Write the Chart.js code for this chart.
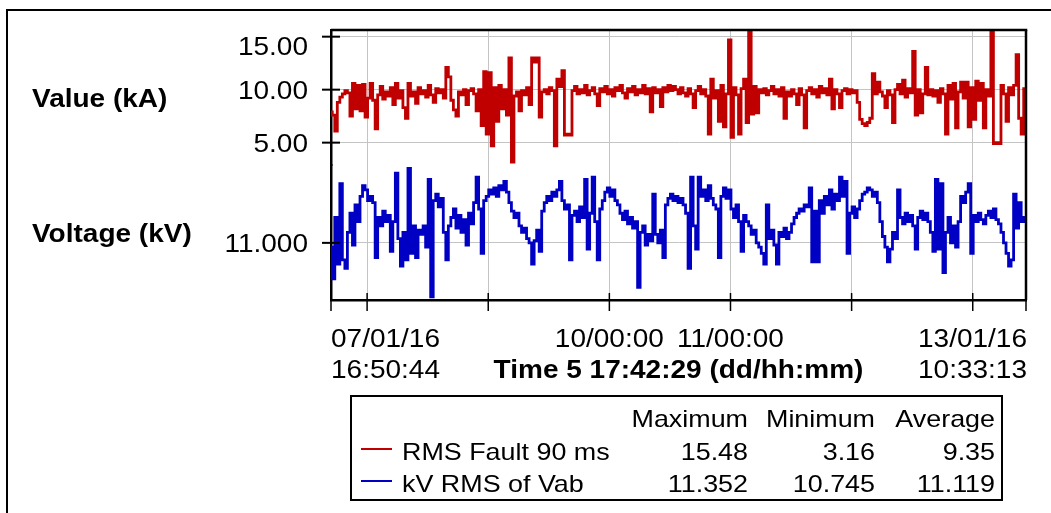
<!DOCTYPE html>
<html>
<head>
<meta charset="utf-8">
<script src="https://cdn.jsdelivr.net/npm/chart.js@4.4.1/dist/chart.umd.min.js"></script>
<style>
  html, body { margin: 0; padding: 0; background: #fff; }
  canvas { display: block; }
</style>
</head>
<body>
<canvas id="trend" width="1051" height="513"></canvas>
<script>
// Time base: hours counted from 07/01/16 00:00
const startHour = 16.8456;   // 07/01/16 16:50:44
const endHour = 154.5536;    // 13/01/16 10:33:13
const sampleStep = 0.5;      // hours between logged samples

// RMS Fault 90 ms (kA)
const faultKA = [
  7.9, 7.6, 6.1, 8.8, 9.3, 9.6, 9.9, 9.7, 7.5, 10.6, 8.2, 10.4,
  8.0, 10.5, 7.4, 9.2, 10.6, 9.0, 6.3, 9.5, 10.3, 9.1, 9.8, 9.4,
  10.2, 8.6, 10.6, 9.2, 9.9, 8.3, 7.3, 10.6, 9.4, 9.8, 8.7, 10.2,
  9.6, 9.9, 9.3, 10.4, 9.5, 8.8, 10.1, 9.7, 10.0, 9.2, 12.1, 11.2,
  9.0, 8.1, 7.5, 9.8, 9.5, 10.0, 8.6, 9.9, 10.1, 9.6, 8.0, 10.0,
  6.6, 11.7, 5.8, 11.6, 4.7, 10.2, 7.0, 10.4, 8.2, 10.0, 7.6, 13.0,
  3.16, 9.4, 9.8, 8.0, 9.9, 9.5, 10.2, 8.6, 13.0, 12.6, 13.0, 7.4,
  9.8, 10.0, 9.6, 10.2, 9.9, 4.7, 11.0, 10.3, 11.8, 5.7, 5.8, 5.7,
  9.9, 10.3, 9.6, 10.0, 9.7, 10.4, 9.5, 9.9, 10.2, 9.6, 8.5, 10.1,
  9.8, 10.3, 9.6, 10.0, 9.4, 10.2, 9.9, 10.4, 9.7, 9.2, 10.1, 9.8,
  10.3, 9.5, 10.0, 9.7, 10.4, 9.6, 10.1, 7.9, 10.2, 9.7, 10.0, 8.4,
  10.2, 9.8, 10.4, 9.9, 10.3, 10.0, 9.6, 10.2, 9.7, 9.4, 10.1, 9.6,
  8.3, 9.9, 10.3, 9.6, 10.0, 9.4, 5.8, 11.0, 9.2, 9.9, 7.0, 10.4,
  6.5, 9.6, 14.7, 5.5, 10.2, 9.5, 5.8, 10.1, 11.0, 6.9, 15.48, 7.7,
  10.3, 7.8, 10.0, 9.7, 10.1, 9.5, 9.9, 10.3, 9.6, 10.0, 9.4, 10.2,
  7.3, 9.8, 9.4, 10.0, 9.6, 8.6, 10.1, 9.5, 6.4, 9.9, 10.2, 9.6,
  10.0, 9.3, 10.3, 9.7, 10.1, 9.5, 11.0, 8.2, 10.0, 9.6, 8.3, 9.9,
  10.1, 9.6, 10.0, 9.7, 9.9, 8.8, 7.2, 6.8, 6.6, 6.9, 7.3, 11.5,
  9.6, 10.7, 9.8, 9.4, 8.3, 9.9, 9.5, 6.9, 10.0, 10.5, 9.6, 10.9,
  9.3, 10.1, 9.7, 13.6, 7.6, 10.0, 7.8, 9.6, 12.1, 9.5, 10.0, 9.4,
  9.9, 8.8, 10.1, 9.6, 5.8, 10.4, 9.1, 10.6, 6.4, 9.8, 10.7, 9.2,
  10.7, 6.5, 10.2, 7.2, 10.8, 9.0, 10.6, 6.4, 10.0, 9.4, 15.4, 4.9,
  5.0, 4.9, 10.4, 9.6, 7.0, 10.2, 9.5, 10.4, 13.3, 7.3, 5.8, 10.1
];

// kV RMS of Vab (kV)
const voltageKV = [
  10.98, 10.83, 11.12, 10.90, 11.28, 10.92, 10.88, 11.05, 11.14, 10.99, 11.18, 11.10,
  11.22, 11.27, 11.25, 11.20, 11.22, 11.19, 10.93, 11.12, 11.08, 11.15, 11.10, 11.13,
  10.96, 11.10, 11.33, 11.02, 10.89, 11.05, 10.92, 11.352, 10.95, 11.08, 10.93, 11.06,
  11.04, 11.08, 10.98, 11.30, 10.745, 11.20, 11.23, 11.17, 11.21, 11.05, 10.92, 11.08,
  11.12, 11.16, 11.07, 11.13, 11.05, 11.11, 10.99, 11.14, 11.09, 11.19, 11.31, 11.16,
  10.95, 11.20, 11.22, 11.25, 11.23, 11.26, 11.22, 11.27, 11.25, 11.29, 11.24, 11.19,
  11.15, 11.12, 11.14, 11.08, 11.05, 11.07, 11.02, 11.00, 10.90, 11.01, 11.06, 10.96,
  11.15, 11.19, 11.22, 11.20, 11.24, 11.22, 11.25, 11.29, 11.20, 11.16, 11.18, 10.92,
  11.13, 11.15, 11.10, 11.17, 11.12, 11.30, 10.97, 11.14, 11.31, 11.10, 10.92, 11.16,
  11.20, 11.24, 11.26, 11.22, 11.25, 11.20, 11.18, 11.14, 11.11, 11.15, 11.09, 11.12,
  11.07, 11.10, 10.79, 11.05, 11.08, 10.99, 11.04, 11.01, 11.23, 11.04, 11.00, 11.06,
  10.93, 11.18, 11.21, 11.23, 11.20, 11.22, 11.19, 11.21, 11.18, 11.14, 10.88, 11.31,
  11.08, 10.97, 11.31, 11.22, 11.25, 11.20, 11.27, 11.21, 11.18, 11.16, 10.93, 11.22,
  11.26, 11.21, 11.25, 11.16, 11.12, 11.18, 11.10, 10.96, 11.13, 11.10, 11.08, 11.04,
  11.06, 11.00, 10.98, 10.95, 10.90, 11.18, 11.02, 11.06, 10.99, 10.90, 11.05, 11.03,
  11.07, 11.02, 11.05, 11.09, 11.12, 11.14, 11.16, 11.15, 11.18, 11.17, 11.26, 10.91,
  11.15, 10.91, 11.20, 11.14, 11.22, 11.18, 11.25, 11.16, 11.23, 11.20, 11.31, 11.22,
  11.29, 10.95, 11.14, 11.17, 11.12, 11.16, 11.20, 11.23, 11.24, 11.26, 11.25, 11.22,
  11.24, 11.19, 11.10, 11.03, 10.98, 10.91, 10.97, 11.05, 11.02, 11.25, 11.12, 11.09,
  11.14, 11.10, 11.13, 11.08, 10.97, 11.12, 11.15, 11.11, 11.14, 11.10, 11.05, 10.96,
  11.30, 10.97, 11.28, 10.86, 11.05, 11.12, 11.00, 11.08, 10.98, 11.10, 11.22, 11.19,
  11.24, 11.28, 10.95, 11.13, 11.10, 11.14, 11.11, 11.09, 11.13, 11.15, 11.12, 11.16,
  11.11, 11.09, 11.05, 11.00, 10.95, 10.89, 10.92, 11.23, 11.07, 11.19, 11.10, 11.12
];

// Axis ticks and their printed labels
const midnightHours = [24, 48, 72, 96, 120, 144];
const midnightLabels = { 72: '10/00:00', 96: '11/00:00' };
const startLabel = ['07/01/16', '16:50:44'];
const endLabel = ['13/01/16', '10:33:13'];
const timeTitle = 'Time 5 17:42:29 (dd/hh:mm)';
const kaTicks = [5, 10, 15];
const kaTickText = ['5.00', '10.00', '15.00'];
const kvTicks = [11];
const kvTickText = ['11.000'];
const kaTitle = 'Value (kA)';
const kvTitle = 'Voltage (kV)';

// Statistics table
const seriesNames = ['RMS Fault 90 ms', 'kV RMS of Vab'];
const statHeads = ['Maximum', 'Minimum', 'Average'];
const statMax = ['15.48', '11.352'];
const statMin = ['3.16', '10.745'];
const statAvg = ['9.35', '11.119'];

const RED = '#c00000';
const BLUE = '#0000c4';
const FONT = '"Liberation Sans", Arial, Helvetica, sans-serif';
const STRETCH = 1.12;

function toPoints(values) {
  return values.map((v, i) => ({ x: startHour + i * sampleStep, y: v }));
}

function drawText(ctx, str, x, y, align, size, bold) {
  ctx.save();
  ctx.font = (bold ? 'bold ' : '') + size + 'px ' + FONT;
  ctx.textAlign = align;
  ctx.textBaseline = 'alphabetic';
  ctx.fillStyle = '#000';
  ctx.translate(x, y);
  ctx.scale(STRETCH, 1);
  ctx.fillText(str, 0, 0);
  ctx.restore();
}

function line(ctx, x1, y1, x2, y2, w, color) {
  ctx.save();
  ctx.beginPath();
  ctx.lineWidth = w;
  ctx.strokeStyle = color || '#000';
  ctx.moveTo(x1, y1);
  ctx.lineTo(x2, y2);
  ctx.stroke();
  ctx.restore();
}

const decorations = {
  id: 'decorations',
  afterDraw(chart) {
    const ctx = chart.ctx;
    const a = chart.chartArea;
    const xs = chart.scales.x;
    const ya = chart.scales.yA;
    const yv = chart.scales.yV;

    // outer frame
    ctx.save();
    ctx.beginPath();
    ctx.lineWidth = 2;
    ctx.strokeStyle = '#000';
    ctx.moveTo(7, 520);
    ctx.lineTo(7, 10);
    ctx.lineTo(1060, 10);
    ctx.stroke();
    ctx.restore();

    // top and right edges of the plot box
    line(ctx, a.left, a.top, a.right + 1.25, a.top, 2.5);
    line(ctx, a.right, a.top, a.right, a.bottom, 2.5);

    // x tick marks and labels
    xs.ticks.forEach(t => {
      const px = xs.getPixelForValue(t.value);
      line(ctx, px, a.bottom - 7, px, a.bottom + 11, 1.5);
    });
    drawText(ctx, startLabel[0], a.left, 347, 'left', 25);
    drawText(ctx, startLabel[1], a.left, 378, 'left', 25);
    drawText(ctx, endLabel[0], a.right + 1, 347, 'right', 25);
    drawText(ctx, endLabel[1], a.right + 1, 378, 'right', 25);
    midnightHours.forEach(h => {
      if (midnightLabels[h]) {
        drawText(ctx, midnightLabels[h], xs.getPixelForValue(h), 347, 'center', 25);
      }
    });
    drawText(ctx, timeTitle, (a.left + a.right) / 2, 378, 'center', 25, true);

    // y tick marks and labels
    [[ya, kaTicks, kaTickText], [yv, kvTicks, kvTickText]].forEach(([s, vals, txt]) => {
      vals.forEach((v, i) => {
        const py = s.getPixelForValue(v);
        line(ctx, a.left - 9, py, a.left + 9, py, 2);
        const base = Math.max(py + 9, s.top + 25);
        drawText(ctx, txt[i], 308, base, 'right', 25);
      });
    });

    // panel titles
    drawText(ctx, kaTitle, 32, (ya.top + ya.bottom) / 2 + 9, 'left', 25, true);
    drawText(ctx, kvTitle, 32, (yv.top + yv.bottom) / 2 + 9, 'left', 25, true);

    // statistics table
    ctx.save();
    ctx.lineWidth = 2;
    ctx.strokeStyle = '#000';
    ctx.strokeRect(351, 396, 651, 104);
    ctx.restore();
    const cols = [748, 875, 995];
    statHeads.forEach((h, i) => drawText(ctx, h, cols[i], 427, 'right', 24));
    const rows = [460, 492];
    const colors = [RED, BLUE];
    seriesNames.forEach((n, r) => {
      line(ctx, 361, rows[r] - 11, 392, rows[r] - 11, 2, colors[r]);
      drawText(ctx, n, 402, rows[r], 'left', 24);
      drawText(ctx, statMax[r], cols[0], rows[r], 'right', 24);
      drawText(ctx, statMin[r], cols[1], rows[r], 'right', 24);
      drawText(ctx, statAvg[r], cols[2], rows[r], 'right', 24);
    });
  }
};

const gridStyle = { color: '#c4c4c4', lineWidth: 1, drawTicks: false };
const borderStyle = { color: '#000', width: 2.5 };

new Chart(document.getElementById('trend'), {
  type: 'line',
  data: {
    datasets: [
      {
        label: seriesNames[0],
        data: toPoints(faultKA),
        yAxisID: 'yA',
        borderColor: RED,
        borderWidth: 2.8,
        pointRadius: 0,
        stepped: 'middle'
      },
      {
        label: seriesNames[1],
        data: toPoints(voltageKV),
        yAxisID: 'yV',
        borderColor: BLUE,
        borderWidth: 2.8,
        pointRadius: 0,
        stepped: 'middle'
      }
    ]
  },
  options: {
    responsive: false,
    animation: false,
    devicePixelRatio: 1,
    events: [],
    layout: { padding: { top: 30, right: 25, left: 0, bottom: 0 } },
    plugins: { legend: { display: false }, tooltip: { enabled: false } },
    scales: {
      x: {
        type: 'linear',
        min: startHour,
        max: endHour,
        afterBuildTicks: s => { s.ticks = [startHour, ...midnightHours, endHour].map(v => ({ value: v })); },
        afterFit: s => { s.height = 213; },
        ticks: { display: false },
        grid: gridStyle,
        border: borderStyle
      },
      // voltage panel (lower) is listed first so the kA panel stacks above it
      yV: {
        type: 'linear',
        position: 'left',
        stack: 'panels',
        stackWeight: 1,
        min: 10.73,
        max: 11.368,
        afterBuildTicks: s => { s.ticks = kvTicks.map(v => ({ value: v })); },
        afterFit: s => { s.width = 331; },
        ticks: { display: false },
        grid: gridStyle,
        border: borderStyle
      },
      yA: {
        type: 'linear',
        position: 'left',
        stack: 'panels',
        stackWeight: 1,
        min: 2.89,
        max: 15.63,
        afterBuildTicks: s => { s.ticks = kaTicks.map(v => ({ value: v })); },
        afterFit: s => { s.width = 331; },
        ticks: { display: false },
        grid: gridStyle,
        border: borderStyle
      }
    }
  },
  plugins: [decorations]
});
</script>
</body>
</html>
